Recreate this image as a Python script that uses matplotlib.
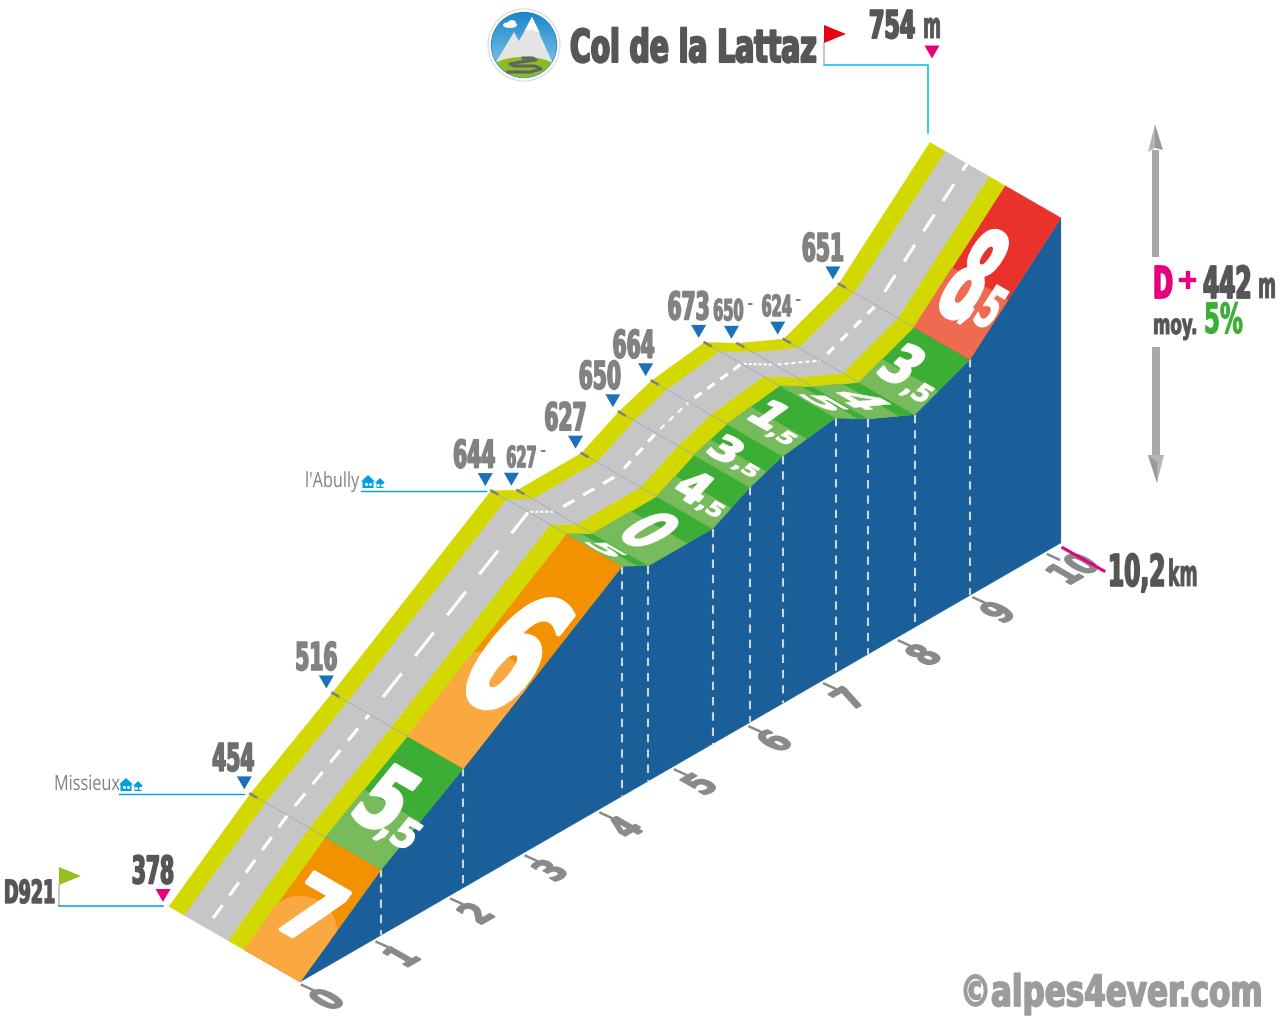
import numpy as np
import matplotlib
matplotlib.use('Agg')
import matplotlib.pyplot as plt
from matplotlib.patches import Circle, Ellipse, Polygon
from matplotlib.patheffects import AbstractPathEffect
from matplotlib.transforms import Affine2D

# profile
KM = [0, 1.09, 2.19, 4.32, 4.67, 5.53, 6.03, 6.47, 7.18, 7.62, 8.24, 8.98, 10.2]
ALT = [378, 454, 516, 644, 627, 627, 650, 664, 673, 650, 624, 651, 754]
SLOPE_INT = ['7', '5', '6', '5', '0', '4', '3', '1', '5', '4', '3', '8']
SLOPE_DEC = ['', ',5', '', '', '', ',5', ',5', ',5', '', '', ',5', ',5']
KM_TICKS = list(range(0, 11))
LABEL_SMALL = [4, 9, 10]

# colours per slope
ORANGE = ('#F39200', '#F9A940')
GREEN = ('#3CAE35', '#77BB5C')
RED = ('#E8322B', '#EE6A50')
SLOPE_COL = [ORANGE, GREEN, ORANGE, GREEN, GREEN, GREEN, GREEN, GREEN, GREEN, GREEN, GREEN, RED]
LIGHT_S = [0.38, 0.47, 0.40, 0.55, 0.6, 0.5, 0.5, 0.45, 0.65, 0.65, 0.42, 0.42]

# drawing styles per segment
GLYPH_S = [0.5, 0.5, 0.5, 0.5, 0.5, 0.5, 0.5, 0.5, 0.5, 0.5, 0.5, 0.45]
GLYPH_T = [0.21, 0.27, 0.20, 0.22, 0.23, 0.28, 0.30, 0.30, 0.21, 0.22, 0.30, 0.28]
GLYPH_H = [0.48, 0.52, 0.50, 0.8, 0.7, 0.6, 0.6, 0.5, 0.8, 0.8, 0.56, 0.58]
GLYPH_W = [52, 44, 62, 36, 34, 30, 30, 30, 40, 40, 31, 38]
GLYPH_STROKE = [3.0, 2.6, 3.7, 0.3, 1.2, 1.6, 1.6, 1.6, 0.3, 0.3, 1.8, 2.2]
DEC_A = [0, 0.71, 0, 0, 0, 0.89, 0.95, 0.9, 0, 0, 0.99, 0.69]
DEC_B = [0, 0.31, 0, 0, 0, 0.27, 0.25, 0.39, 0, 0, 0.35, 0.2]
ROAD_DASH = [(16, 12), (16, 12), (30, 22), (3, 2), (13, 10), (10, 8), (6, 6), (9, 7), (3, 2), (4, 3), (10, 9), (20, 16)]
LABEL_DX = [-10, -11, -10, -11, 10, -10, -13, -12, -10, -3, -1, -10]

plt.rcParams['lines.scale_dashes'] = False
FONT = 'DejaVu Sans'
DARK = '#565656'
MID = '#828282'
BLUE = '#1B5F9A'
YELLOW = '#D3D800'
ROAD = '#C6C6C6'
CYAN = '#009FE3'
PINK = '#E6007E'

fig = plt.figure(figsize=(12.8, 10.24), dpi=100)
ax = fig.add_axes([0, 0, 1, 1])
ax.set_xlim(0, 1280)
ax.set_ylim(1024, 0)
ax.axis('off')


def project(km, alt, t=0.0):
    # flat view of the climb: km along the ground, metres up, t across the road
    x = 300 + 74.6 * km - 131 * t
    y = 982 - 43.05 * km - 0.8644 * (alt - 378) - 75.5 * t
    return np.array([x, y])


class Warp(AbstractPathEffect):
    # bends real text around its anchor, the font has no condensed cut
    def __init__(self, x, y, m, stroke=0.0):
        self.cx, self.cy = ax.transData.transform((x, y))
        self.m = m
        self.stroke = stroke

    def draw_path(self, renderer, gc, tpath, affine, rgbFace=None):
        a, c, b, d = self.m
        tr = (affine + Affine2D().translate(-self.cx, -self.cy)
              + Affine2D.from_values(a, b, c, d, 0, 0)
              + Affine2D().translate(self.cx, self.cy))
        gc0 = renderer.new_gc()
        gc0.copy_properties(gc)
        gc0.set_linewidth(self.stroke)
        gc0.set_foreground(rgbFace)
        renderer.draw_path(gc0, tpath, tr, rgbFace)
        gc0.restore()


def label(x, y, s, size, color, sx=0.53, stroke=1.2, ha='center', weight='bold', family=FONT):
    # font size set by the width, then pulled up to the wanted height
    t = ax.text(x, y, s, fontsize=size * sx, color=color, ha=ha, va='baseline', fontweight=weight, family=family)
    t.set_path_effects([Warp(x, y, (1, 0, 0, 1 / sx), stroke)])
    return t


def plane_text(pos, s, size, color, r, u, stroke=0.5):
    # r, u: pixel vectors of one glyph width and one glyph height, pos is the glyph centre
    em = size / 72 * 100
    w0, h0 = 0.696 * em, 0.73 * em
    m = (r[0] / w0, u[0] / h0, -r[1] / w0, -u[1] / h0)
    x, y = pos - u / 2
    t = ax.text(x, y, s, fontsize=size, color=color, ha='center', va='baseline', fontweight='bold', family=FONT)
    t.set_path_effects([Warp(x, y, m, stroke)])
    return t


def strip(i, t0, t1, color, s0=0.0, s1=1.0, z=2):
    a = project(KM[i], ALT[i])
    b = project(KM[i + 1], ALT[i + 1])
    d = project(0, 378, 1) - project(0, 378, 0)
    p0, p1 = a + (b - a) * s0, a + (b - a) * s1
    pts = [p0 + d * t0, p1 + d * t0, p1 + d * t1, p0 + d * t1]
    poly = Polygon(pts, closed=True, facecolor=color, edgecolor=color, lw=0.3, zorder=z)
    ax.add_patch(poly)
    return poly


def triangle(x, y, color, w=15, h=13):
    ax.fill([x - w / 2, x + w / 2, x], [y - h / 2, y - h / 2, y + h / 2], color=color, lw=0, zorder=5)


def flag(x, y, color):
    ax.plot([x, x], [y + 18, y + 38], color='#C8C8C8', lw=1.5, zorder=4)
    ax.fill([x, x + 22, x], [y, y + 9, y + 18], color=color, lw=0, zorder=5)


def houses(x, y):
    for dx, w, h in [(0, 14, 13), (14, 10, 10)]:
        x0 = x + dx
        ax.fill([x0, x0 + w / 2, x0 + w, x0 + w - 1.5, x0 + w - 1.5, x0 + 1.5, x0 + 1.5],
                [y - h * 0.5, y - h, y - h * 0.5, y - h * 0.5, y, y, y - h * 0.5], color=CYAN, lw=0, zorder=5)
        ax.plot([x0 + w * 0.33, x0 + w * 0.67], [y - h * 0.3, y - h * 0.3], 'o', ms=1.2, color='white', zorder=6)


# side wall
wall_top = [project(k, a) for k, a in zip(KM, ALT)]
wall_base = [project(k, 378) for k in (KM[-1], KM[0])]
ax.add_patch(Polygon(wall_top + wall_base, closed=True, facecolor=BLUE, edgecolor=BLUE, lw=0.3, zorder=1))
for k, a in zip(KM[1:-1], ALT[1:-1]):
    p, q = project(k, a), project(k, 378)
    ax.plot([p[0], q[0]], [p[1], q[1]], color='#CFD6DE', lw=1.5, dashes=(6, 5), dash_capstyle='butt', zorder=2)

# road and slope bands
for i in range(len(SLOPE_INT)):
    dark, light = SLOPE_COL[i]
    strip(i, 0, 0.427, dark)
    strip(i, 0, 0.427, light, s1=LIGHT_S[i], z=2.1)
    strip(i, 0.427, 0.55, YELLOW)
    strip(i, 0.55, 0.885, ROAD)
    strip(i, 0.885, 1.0, YELLOW)

    p, q = project(KM[i], ALT[i], 0.717), project(KM[i + 1], ALT[i + 1], 0.717)
    on, off = ROAD_DASH[i]
    ax.plot([p[0], q[0]], [p[1], q[1]], color='white', lw=1.5 if on < 8 else 2.3,
            linestyle=(on * 0.72, (on * 0.72, off * 0.72)), dash_capstyle='butt', zorder=3)

# round light patch on the two long orange stretches
for i, s, t, r in [(0, 0.31, 0.19, 37), (2, 0.31, 0.2, 40)]:
    a, b = project(KM[i], ALT[i]), project(KM[i + 1], ALT[i + 1])
    c = a + (b - a) * s + (project(0, 378, 1) - project(0, 378, 0)) * t
    band = strip(i, 0, 0.427, 'none', z=0)
    patch = Circle(c, r, facecolor=SLOPE_COL[i][1], lw=0, zorder=2.2)
    ax.add_patch(patch)
    patch.set_clip_path(band)

# seams between stretches
for k, a in zip(KM[1:-1], ALT[1:-1]):
    p, q, r = project(k, a, 0.427), project(k, a, 1.0), project(k, a, 0.955)
    ax.plot([p[0], q[0]], [p[1], q[1]], color='#9AA3C8', lw=0.5, zorder=3)
    ax.plot([r[0], q[0]], [r[1], q[1]], color='#7F7F7F', lw=1.8, zorder=3.1)

# slope numbers painted on the band
depth = project(0, 378, 0) - project(0, 378, 1)
depth_hat = depth / np.hypot(*depth)
for i in range(len(SLOPE_INT)):
    a, b = project(KM[i], ALT[i]), project(KM[i + 1], ALT[i + 1])
    seg = b - a
    u = seg * GLYPH_H[i]
    r = depth_hat * GLYPH_W[i]
    c = a + seg * GLYPH_S[i] - depth * GLYPH_T[i]
    plane_text(c, SLOPE_INT[i], 24, 'white', r, u, stroke=GLYPH_STROKE[i])
    if SLOPE_DEC[i]:
        plane_text(c + r * DEC_A[i] - u * DEC_B[i], SLOPE_DEC[i], 12, 'white', r * 0.55, u * 0.45, stroke=GLYPH_W[i] * 0.025)

# summit labels along the road
for i in range(12):
    p = project(KM[i], ALT[i], 1.0)
    tx, ty = p[0] - 6, p[1] - 11
    triangle(tx, ty, PINK if i == 0 else '#1D71B8')
    col = DARK if i == 0 else ('#6E6E6E' if i == 1 else MID)
    if i in LABEL_SMALL:
        label(tx + LABEL_DX[i], ty - 12, str(ALT[i]), 21, col, sx=0.5, stroke=0.9)
        ax.text(tx + LABEL_DX[i] + 21, ty - 29, '-', fontsize=11, color=col, ha='center', va='center', fontweight='bold', family=FONT)
    else:
        label(tx + LABEL_DX[i], ty - 12, str(ALT[i]), 27.5, col)

# km ticks on the ground
ground = project(KM[-1], 378) - project(0, 378)
ground_hat = ground / np.hypot(*ground)
for k in KM_TICKS:
    p = project(k, 378)
    ax.plot([p[0] + 2, p[0] + 13], [p[1] + 3, p[1] + 8], color='#8A8A8A', lw=1.8, zorder=2)
    pos = p + np.array([26, 17])
    plane_text(pos, str(k), 12, '#8A8A8A', ground_hat * 20, -depth_hat * 30, stroke=1.2)

# title block
for r, col in [(36.5, '#D5D5D5'), (35.5, 'white')]:
    ax.add_patch(Circle((524, 45), r, facecolor=col, lw=0, zorder=3))
disc = Circle((524, 45), 32.5, facecolor='#2F9FDC', edgecolor='#1B80BF', lw=1, zorder=3.1)
ax.add_patch(disc)
sky = np.linspace(0, 1, 64).reshape(-1, 1)
im = ax.imshow(sky, extent=(490, 558, 78, 12), cmap=matplotlib.colors.LinearSegmentedColormap.from_list('sky', ['#1C86C8', '#8FD0F0']), aspect='auto', zorder=3.2)
im.set_clip_path(disc)
ax.set_xlim(0, 1280)
ax.set_ylim(1024, 0)
logo = [
    Polygon([(496, 62), (514, 32), (519, 41), (532, 17), (553, 64)], closed=True, facecolor='#E4E4E4', lw=0, zorder=3.3),
    Polygon([(525, 30), (532, 17), (540, 33), (533, 30)], closed=True, facecolor='white', lw=0, zorder=3.4),
    Ellipse((510, 25), 14, 6, facecolor='white', lw=0, zorder=3.4),
    Ellipse((512, 23), 8, 6, facecolor='white', lw=0, zorder=3.4),
    Ellipse((524, 69), 66, 24, facecolor='#8DBB25', lw=0, zorder=3.5),
]
for patch in logo:
    ax.add_patch(patch)
    patch.set_clip_path(disc)
ax.plot([523, 533, 536, 520, 510, 514, 535, 541, 530, 508], [58, 58, 60, 62, 64, 66, 66, 69, 72, 72], color='#5F6660', lw=2.2, zorder=3.6)

label(570, 62, 'Col de la Lattaz', 32.5, DARK, sx=0.625, stroke=1.5, ha='left')
flag(824, 25, '#E30613')
ax.plot([824, 928, 928], [65, 65, 133], color='#00BEE6', lw=1.1, zorder=4)
triangle(932, 52, PINK)
label(869, 38, '754', 27.5, DARK, ha='left', sx=0.58, stroke=1.4)
label(923, 38, 'm', 26, DARK, ha='left', sx=0.48, stroke=0.6)

# start block
flag(59, 867, '#95C11F')
ax.plot([59, 163], [906, 906], color=CYAN, lw=1.1, zorder=4)
label(4, 903, 'D921', 23, DARK, ha='left', sx=0.55, stroke=1.0)

# villages
label(54, 790, 'Missieux', 15, MID, sx=0.78, stroke=0, ha='left', weight='normal', family='Open Sans')
houses(119, 791)
ax.plot([119, 244], [793.5, 793.5], color=CYAN, lw=1, zorder=4)
label(305, 487, "l'Abully", 15, MID, sx=0.78, stroke=0, ha='left', weight='normal', family='Open Sans')
houses(361, 488)
ax.plot([361, 486], [490.5, 490.5], color=CYAN, lw=1, zorder=4)

# height arrows on the right
ARROW = '#A8A8A8'
ax.fill([1152, 1159, 1159, 1152], [150, 150, 257, 257], color=ARROW, lw=0, zorder=3)
ax.fill([1148, 1155, 1155], [152, 124, 148], color='#B5B5B5', lw=0, zorder=3)
ax.fill([1155, 1163, 1155], [124, 150, 148], color='#9A9A9A', lw=0, zorder=3)
ax.fill([1152, 1160, 1160, 1152], [347, 347, 458, 458], color=ARROW, lw=0, zorder=3)
ax.fill([1148, 1164, 1157], [455, 455, 483], color='#B5B5B5', lw=0, zorder=3)
ax.fill([1148, 1157, 1157], [455, 462, 483], color='#9A9A9A', lw=0, zorder=3)

label(1153, 298, 'D', 31.6, PINK, ha='left', sx=0.55, stroke=1.3)
label(1176, 288, '+', 20, PINK, ha='left', sx=0.95, stroke=1.0)
label(1203, 298, '442', 31.6, DARK, ha='left', sx=0.53, stroke=1.3)
label(1258, 298, 'm', 26, DARK, ha='left', sx=0.48, stroke=0.6)
label(1153, 334, 'moy.', 20, DARK, ha='left', sx=0.6, stroke=0.7)
label(1204, 333, '5%', 30, '#3CAE35', ha='left', sx=0.55, stroke=0.7)

# length at the end of the ground line
p = project(KM[-1], 378)
ax.plot([p[0] + 2, p[0] + 43], [p[1] + 5, p[1] + 28], color=PINK, lw=2.2, zorder=4)
label(1108, 586, '10,2', 31.6, DARK, ha='left', sx=0.53, stroke=1.2)
label(1168, 586, 'km', 26, DARK, ha='left', sx=0.48, stroke=0.6)

label(960, 1006, '©alpes4ever.com', 31, '#9C9C9C', ha='left', sx=0.72, stroke=1.2)

fig.savefig('out.png', dpi=100)
